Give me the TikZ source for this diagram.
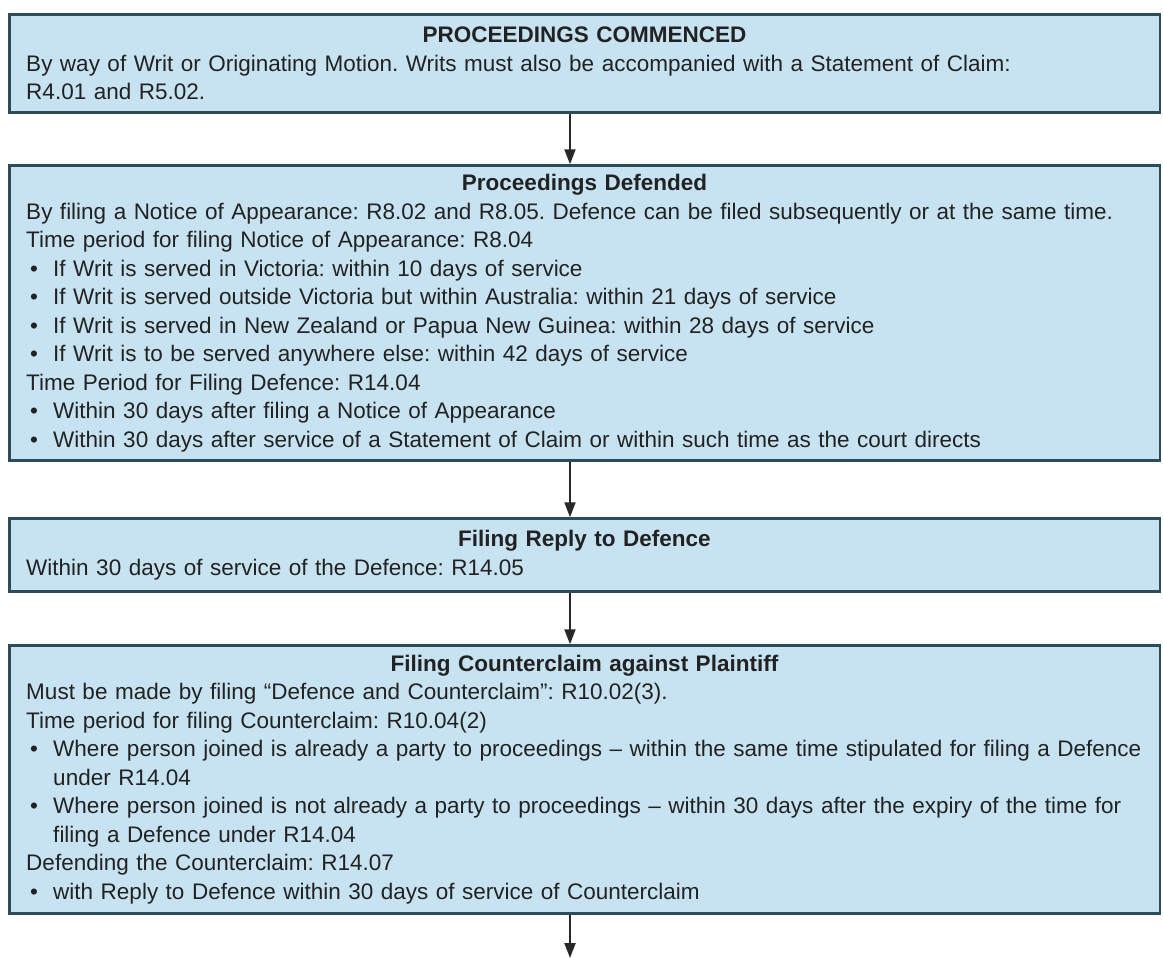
\documentclass[tikz,border=0pt]{standalone}
\usepackage{fontspec}
\setmainfont{Liberation Sans}
\usetikzlibrary{arrows.meta}

\definecolor{boxfill}{RGB}{199,227,241}
\definecolor{boxline}{RGB}{44,76,88}
\definecolor{boxtext}{RGB}{34,34,34}
\definecolor{arrowgray}{RGB}{40,40,40}

\newcommand{\stagehead}[1]{{\centering\textbf{#1}\par}\ignorespaces}
\newcommand{\bitem}{\par\hangindent=27pt\hangafter=1\noindent\makebox[27pt][l]{\hspace{4pt}\textbullet}}

\tikzset{
  stage/.style={draw=boxline, line width=2.5pt, fill=boxfill, text=boxtext,
    text width=1116.5pt, inner xsep=17pt, inner ysep=0pt, align=left,
    anchor=north, font=\fontsize{22.5}{28.5}\selectfont\frenchspacing},
  flow/.style={draw=arrowgray, line width=2pt, -{Triangle[width=11pt,length=15pt]}}
}

\begin{document}
\begin{tikzpicture}
\useasboundingbox (0,0) rectangle (1163pt,-958pt);

\node[stage, minimum height=98pt] (commenced) at (584.5pt,-13.25pt) {%
\stagehead{PROCEEDINGS COMMENCED}
By way of Writ or Originating Motion. Writs must also be accompanied with a Statement of Claim:\\
R4.01 and R5.02.};

\node[stage, minimum height=295pt] (defended) at (584.5pt,-164.25pt) {%
\stagehead{Proceedings Defended}
By filing a Notice of Appearance: R8.02 and R8.05. Defence can be filed subsequently or at the same time.\par
Time period for filing Notice of Appearance: R8.04
\bitem If Writ is served in Victoria: within 10 days of service
\bitem If Writ is served outside Victoria but within Australia: within 21 days of service
\bitem If Writ is served in New Zealand or Papua New Guinea: within 28 days of service
\bitem If Writ is to be served anywhere else: within 42 days of service\par
Time Period for Filing Defence: R14.04
\bitem Within 30 days after filing a Notice of Appearance
\bitem Within 30 days after service of a Statement of Claim or within such time as the court directs};

\node[stage, minimum height=73pt] (reply) at (584.5pt,-517.25pt) {%
\stagehead{Filing Reply to Defence}
Within 30 days of service of the Defence: R14.05};

\node[stage, minimum height=268pt] (counter) at (584.5pt,-644.25pt) {%
\stagehead{Filing Counterclaim against Plaintiff}
Must be made by filing “Defence and Counterclaim”: R10.02(3).\par
Time period for filing Counterclaim: R10.04(2)
\bitem Where person joined is already a party to proceedings -- within the same time stipulated for filing a Defence\newline
under R14.04
\bitem Where person joined is not already a party to proceedings -- within 30 days after the expiry of the time for\newline
filing a Defence under R14.04\par
Defending the Counterclaim: R14.07
\bitem with Reply to Defence within 30 days of service of Counterclaim};

\coordinate (next) at (570pt,-958pt);

% connectors
\draw[flow] ([xshift=-14.5pt]commenced.south) -- ([xshift=-14.5pt]defended.north);
\draw[flow] ([xshift=-14.5pt]defended.south) -- ([xshift=-14.5pt]reply.north);
\draw[flow] ([xshift=-14.5pt]reply.south) -- ([xshift=-14.5pt]counter.north);
\draw[flow] ([xshift=-14.5pt]counter.south) -- (next);
\end{tikzpicture}
\end{document}
